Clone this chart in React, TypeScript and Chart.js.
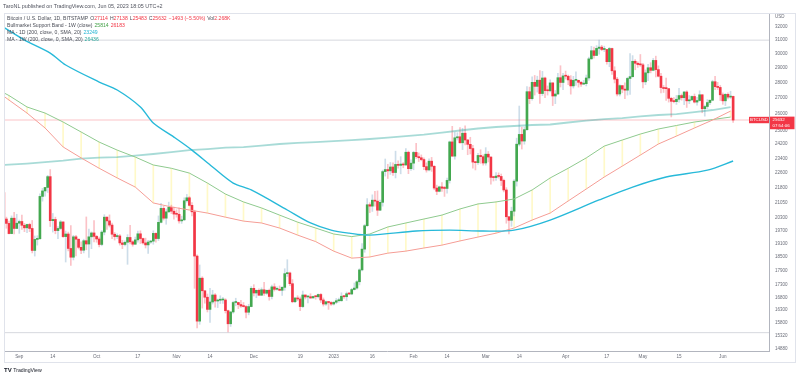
import React, { useEffect, useRef } from "react";
import { Chart, registerables } from "chart.js";
Chart.register(...registerables);

// ---------------- DATA ----------------
const candleStart = "2022-08-26";
const firstOpen = 21560;
// daily closes, Aug 26 2022 .. Jun 5 2023
const closes = [
  20250, 20040, 19560, 20290, 19800, 20050,
  20130, 19950, 19830, 19990, 19800, 18790, 19290, 19320, 21370, 21650, 21830, 22400, 20170, 20230, 19700, 19800, 20110, 19420, 19540, 18880, 18490, 19410, 19300, 18930, 18800, 19230, 19080, 19410, 19590, 19430,
  19310, 19060, 19630, 20340, 20160, 19960, 19530, 19420, 19450, 19130, 19060, 19160, 19380, 19180, 19070, 19270, 19550, 19330, 19130, 19040, 19170, 19210, 19570, 19330, 20090, 20770, 20290, 20600, 20820, 20630, 20490,
  20480, 20160, 20210, 21150, 21300, 20920, 20600, 18540, 15880, 17590, 17070, 16810, 16330, 16620, 16900, 16660, 16690, 16700, 16700, 16280, 15780, 16230, 16600, 16600, 16520, 16460, 16440, 16220, 16440, 17170,
  16980, 17090, 16890, 17110, 16970, 17090, 16840, 17230, 17130, 17130, 17090, 17210, 17780, 17810, 17360, 16630, 16780, 16740, 16440, 16900, 16820, 16830, 16780, 16840, 16830, 16920, 16700, 16540, 16630, 16600, 16540,
  16610, 16670, 16670, 16850, 16830, 16950, 16940, 17120, 17180, 17440, 17940, 18850, 19930, 20950, 20880, 21180, 21130, 20680, 21070, 22670, 22780, 22710, 22920, 22620, 23060, 23010, 23080, 23030, 23740, 22830, 23130,
  23730, 23490, 23430, 23330, 22940, 22760, 23240, 22960, 21800, 21630, 21860, 21790, 21780, 22200, 24330, 23520, 24570, 24630, 24280, 24840, 24440, 24190, 23950, 23190, 23160, 23560, 23490, 23140,
  23630, 23470, 22360, 22350, 22430, 22410, 22200, 21700, 20360, 20190, 20630, 22160, 24200, 24770, 24380, 25050, 27420, 26970, 28040, 27770, 28180, 27300, 28330, 27490, 27480, 28000, 27140, 27270, 28350, 28030, 28470,
  28450, 28200, 27800, 28170, 28170, 28040, 27920, 27950, 28330, 29650, 30230, 29890, 30400, 30490, 30320, 30320, 29450, 30390, 28820, 28250, 27270, 27820, 27590, 27520, 28300, 28420, 29480, 29340, 29250, 29230,
  28070, 28680, 29030, 28850, 29540, 28900, 28450, 27690, 27630, 27620, 26990, 26800, 26780, 26930, 27170, 27030, 27400, 26830, 26890, 27110, 26750, 26850, 27220, 26330, 26470, 26720, 26870, 28080, 27750, 27700, 27220,
  26830, 27250, 27070, 27114, 25632,
];
const highs = [
  21860, 20340, 20150, 20400, 20570, 20480,
  20200, 20440, 20040, 20010, 20050, 20180, 19450, 19460, 21500, 21780, 21830, 22470, 22780, 20520, 20340, 19890, 20180, 20110, 19680, 19630, 19940, 19480, 19480, 19310, 19180, 19300, 20350, 19770, 19640, 20170,
  19480, 19400, 19700, 20460, 20360, 20450, 20060, 19610, 19550, 19520, 19250, 19230, 19510, 19950, 19230, 19400, 19680, 19690, 19350, 19350, 19250, 19250, 19690, 19600, 20400, 21020, 20870, 20740, 21080, 20930, 20830,
  20700, 20800, 20390, 21300, 21470, 21360, 21060, 20680, 18600, 18150, 17650, 17070, 16940, 17170, 17090, 16960, 16740, 16870, 16810, 16750, 16300, 16250, 16650, 16770, 16610, 16690, 16600, 16480, 16530, 17240,
  17320, 17100, 17150, 17190, 17420, 17100, 17140, 17300, 17360, 17230, 17270, 17240, 17990, 18380, 17850, 17530, 16800, 16870, 16820, 17060, 16900, 16870, 16950, 16860, 16860, 16940, 16960, 16780, 16660, 16620, 16640,
  16630, 16760, 16780, 16990, 16880, 17020, 16990, 17170, 17390, 17490, 17990, 19100, 19990, 21260, 21050, 21450, 21630, 21650, 21190, 22750, 23360, 23070, 23170, 23150, 23800, 23260, 23490, 23160, 23950, 23810, 23320,
  23790, 24250, 23700, 23590, 23430, 23150, 23370, 23450, 22990, 21950, 21900, 22080, 21890, 22320, 24380, 25250, 24900, 24870, 25180, 25130, 25280, 24480, 24600, 24140, 23210, 23680, 23880, 23600,
  24000, 23780, 23480, 22420, 22620, 22600, 22540, 22270, 21820, 20370, 20830, 22250, 24550, 26500, 25200, 25200, 27750, 27720, 28400, 28500, 28450, 28830, 28780, 28390, 27800, 28200, 28020, 27500, 28650, 29170, 28650,
  28800, 28530, 28490, 28440, 28750, 28190, 28100, 28170, 28530, 29770, 30550, 30490, 30600, 31000, 30620, 30560, 30320, 30470, 30420, 29100, 28370, 27880, 27820, 28000, 28380, 30020, 29880, 29600, 29450, 29960,
  29340, 28880, 29270, 29380, 29680, 29840, 29160, 28650, 27830, 28330, 27630, 27060, 27040, 27180, 27640, 27270, 27450, 27480, 27170, 27150, 27270, 27050, 27480, 27220, 26560, 26910, 26880, 28180, 28440, 28040, 27830,
  27340, 27300, 27340, 27450, 27138,
];
const lows = [
  20140, 19810, 19550, 19550, 19540, 19800,
  19570, 19760, 19650, 19600, 19650, 18680, 18540, 19030, 19300, 21130, 21380, 21570, 19890, 19630, 19550, 19330, 19750, 19380, 18280, 18770, 18130, 18370, 18550, 18860, 18650, 18680, 18820, 18480, 18870, 19170,
  19160, 18950, 19000, 19500, 19750, 19870, 19330, 19260, 19330, 19030, 18870, 18990, 18180, 19080, 18980, 19070, 19160, 19100, 19070, 18900, 18660, 19110, 19070, 19160, 19240, 20060, 20200, 20000, 20560, 20510, 20240,
  20340, 20050, 20040, 20180, 21080, 20890, 20400, 17170, 15630, 15760, 16380, 16570, 16230, 15830, 16540, 16420, 16400, 16560, 16560, 16190, 15480, 15680, 16180, 16470, 16360, 16410, 16420, 16000, 16120, 16430,
  16860, 16790, 16880, 16880, 16880, 16920, 16690, 16740, 17060, 17090, 17070, 16880, 17090, 17660, 17280, 16590, 16590, 16670, 16280, 16400, 16740, 16580, 16760, 16780, 16730, 16780, 16600, 16460, 16490, 16330, 16490,
  16500, 16550, 16610, 16650, 16760, 16680, 16910, 16910, 17100, 17140, 17310, 17900, 18710, 19900, 20560, 20620, 20880, 20420, 20660, 20880, 22430, 22300, 22520, 22470, 22330, 22850, 22550, 22880, 23000, 22560, 22730,
  22770, 23390, 23220, 23260, 22770, 22640, 22710, 22680, 21710, 21460, 21600, 21630, 21370, 21530, 22060, 23510, 23350, 24440, 24260, 23890, 24160, 23600, 23640, 22850, 22760, 23060, 23120, 23020,
  23020, 23200, 22000, 22170, 22200, 22320, 21930, 21600, 20050, 19550, 19900, 20400, 21900, 24100, 23920, 24200, 25000, 26650, 26880, 27200, 27390, 26660, 27170, 27030, 27200, 27400, 26530, 26650, 27250, 27730, 27560,
  28260, 27880, 27260, 27660, 27830, 27720, 27770, 27880, 27800, 28170, 29620, 29700, 29880, 29980, 30230, 30160, 29280, 29100, 28570, 28000, 27150, 27140, 27350, 26970, 27200, 27250, 28380, 28890, 29050, 29120,
  27670, 27880, 28150, 28680, 28820, 28400, 28400, 27340, 27370, 26860, 26750, 25820, 26700, 26600, 26740, 26870, 26580, 26410, 26650, 26850, 26690, 26560, 26810, 26080, 25870, 26340, 26590, 26830, 27560, 27560, 26850,
  26610, 26530, 26960, 26980, 25483,
];

// weekly indicator vertices (every 7 days from this Sunday)
const weekStart = "2022-08-21";
const bandEma21 = [27790, 27170, 26440, 26060, 25510, 24910, 24320, 23860, 23470, 23030, 22850, 22590, 22060, 21490, 21090, 20790, 20440, 20100, 19820, 19540, 19420, 19540, 19870, 20060, 20250, 20440, 20740, 20990, 21090, 21240, 21700, 22330, 22850, 23420, 24090, 24440, 24790, 25090, 25300, 25510, 25660, 25814];
const bandSma20 = [27730, 26880, 26060, 25150, 24040, 23420, 22850, 22330, 21850, 21040, 20840, 20690, 20540, 20340, 20150, 20060, 19820, 19490, 19190, 18760, 18450, 18500, 18670, 18760, 18900, 19030, 19220, 19400, 19580, 19820, 20200, 20540, 21140, 21750, 22380, 22970, 23580, 24210, 24670, 25150, 25630, 26183];
const maWeekly200 = [22970, 23050, 23110, 23190, 23270, 23380, 23440, 23470, 23550, 23640, 23750, 23860, 23920, 24000, 24030, 24120, 24210, 24270, 24320, 24380, 24440, 24500, 24580, 24670, 24760, 24880, 25000, 25120, 25210, 25270, 25330, 25360, 25480, 25600, 25690, 25750, 25850, 25940, 26000, 26120, 26250, 26436];

// daily 200 SMA, sampled
const maDailyDates = ["2022-08-26", "2022-09-03", "2022-09-13", "2022-09-19", "2022-10-02", "2022-10-09", "2022-10-18", "2022-10-23", "2022-10-31", "2022-11-07", "2022-11-15", "2022-11-23", "2022-11-30", "2022-12-14", "2022-12-23", "2022-12-31", "2023-01-07", "2023-01-15", "2023-02-02", "2023-02-15", "2023-02-28", "2023-03-12", "2023-03-26", "2023-04-14", "2023-04-27", "2023-05-10", "2023-05-26", "2023-06-05"];
const maDaily200 = [31950, 31010, 30060, 29220, 28060, 27530, 26440, 25450, 24610, 23860, 22920, 22060, 21700, 20690, 20060, 19720, 19580, 19490, 19680, 19720, 19680, 19720, 20200, 21190, 21850, 22380, 22750, 23249];

const rangeLines = [31000, 15450];

const xTickDates = ["2022-09-01", "2022-09-14", "2022-10-01", "2022-10-17", "2022-11-01", "2022-11-14", "2022-12-01", "2022-12-19", "2023-01-01", "2023-01-16", "2023-02-01", "2023-02-14", "2023-03-01", "2023-03-14", "2023-04-01", "2023-04-17", "2023-05-01", "2023-05-15", "2023-06-01"];
const xTickLabels = ["Sep", "14", "Oct", "17", "Nov", "14", "Dec", "19", "2023", "16", "Feb", "14", "Mar", "14", "Apr", "17", "May", "15", "Jun"];
const yTicks = [32000, 31000, 30000, 29000, 28000, 27000, 26000, 25000, 24200, 23400, 22600, 21800, 21050, 20300, 19700, 19100, 18500, 17900, 17300, 16800, 16300, 15800, 15320, 14880];

// ---------------- HELPERS ----------------
const BASE = Date.parse("2022-09-01T00:00:00Z");
const dayOf = (s: string) => Math.round((Date.parse(s + "T00:00:00Z") - BASE) / 86400000);
const X_MIN = -5.55;
const X_MAX = 290.92;
const Y_MIN = 14790;
const Y_MAX = 33070;

const UP = "#43a84f";
const DOWN = "#f23645";
const UP_WICK = "rgba(130,170,200,0.4)";
const DOWN_WICK = "rgba(242,54,69,0.3)";
const FONT = '"Liberation Sans", Arial, sans-serif';

const startDay = dayOf(candleStart);
const opens = closes.map((c, i) => (i === 0 ? firstOpen : closes[i - 1]));
const lastClose = closes[closes.length - 1];
const weekDay0 = dayOf(weekStart);

const wickData = closes.map((c, i) => ({
  x: startDay + i,
  y: [Math.min(lows[i], opens[i], c), Math.max(highs[i], opens[i], c)],
}));
const bodyData = closes.map((c, i) => ({ x: startDay + i, y: [opens[i], c] }));
const isUp = (i: number) => closes[i] >= opens[i];
const weekly = (arr: number[]) => arr.map((v, i) => ({ x: weekDay0 + 7 * i, y: v }));
const bandFill = bandEma21.map((v, i) => ({ x: weekDay0 + 7 * i, y: [bandSma20[i], v] }));
const maDailyData = maDailyDates.map((d, i) => ({ x: dayOf(d), y: maDaily200[i] }));
const hLine = (v: number) => [{ x: X_MIN - 5, y: v }, { x: X_MAX + 5, y: v }];
const tickDays = xTickDates.map(dayOf);

const priceTag = {
  id: "priceTag",
  afterDraw(chart: any) {
    const { ctx, chartArea } = chart;
    const py = chart.scales.y.getPixelForValue(lastClose);
    ctx.save();
    ctx.fillStyle = DOWN;
    ctx.fillRect(chartArea.right - 20, py - 3.2, 20, 6.4);
    ctx.fillRect(chartArea.right + 1, py - 3.4, 24.5, 12.6);
    ctx.fillStyle = "#ffffff";
    ctx.font = `4.4px ${FONT}`;
    ctx.textBaseline = "middle";
    ctx.textAlign = "center";
    ctx.fillText("BTCUSD", chartArea.right - 10, py + 0.2);
    ctx.textAlign = "left";
    ctx.fillText(String(lastClose), chartArea.right + 3.5, py + 0.2);
    ctx.fillText("07:54:06", chartArea.right + 3.5, py + 6.2);
    ctx.restore();
  },
};

export default function App() {
  const ref = useRef<HTMLCanvasElement>(null);
  useEffect(() => {
    const chart = new Chart(ref.current as HTMLCanvasElement, {
      type: "bar",
      data: {
        datasets: [
          {
            type: "bar",
            data: bandFill as any,
            backgroundColor: "rgba(255,235,59,0.28)",
            barThickness: 1,
            grouped: false,
            order: 20,
          } as any,
          {
            type: "line",
            data: hLine(rangeLines[0]) as any,
            borderColor: "#d6d8de",
            borderWidth: 1,
            pointRadius: 0,
            order: 19,
          },
          {
            type: "line",
            data: hLine(rangeLines[1]) as any,
            borderColor: "#d6d8de",
            borderWidth: 1,
            pointRadius: 0,
            order: 19,
          },
          {
            type: "line",
            data: hLine(lastClose) as any,
            borderColor: "rgba(242,54,69,0.2)",
            borderWidth: 1.5,
            pointRadius: 0,
            order: 18,
          },
          {
            type: "bar",
            data: wickData as any,
            backgroundColor: (c: any) => (isUp(c.dataIndex) ? UP_WICK : DOWN_WICK),
            barThickness: 1,
            grouped: false,
            order: 11,
          } as any,
          {
            type: "bar",
            data: bodyData as any,
            backgroundColor: (c: any) => (isUp(c.dataIndex) ? UP : DOWN),
            barThickness: 2,
            minBarLength: 1,
            grouped: false,
            order: 10,
          } as any,
          {
            type: "line",
            data: weekly(maWeekly200) as any,
            borderColor: "rgba(38,166,154,0.4)",
            borderWidth: 1.8,
            pointRadius: 0,
            tension: 0,
            order: 4,
          },
          {
            type: "line",
            data: weekly(bandEma21) as any,
            borderColor: "#8fca8f",
            borderWidth: 1,
            pointRadius: 0,
            tension: 0,
            order: 3,
          },
          {
            type: "line",
            data: weekly(bandSma20) as any,
            borderColor: "#f59d96",
            borderWidth: 1,
            pointRadius: 0,
            tension: 0,
            order: 2,
          },
          {
            type: "line",
            data: maDailyData as any,
            borderColor: "#27b9d9",
            borderWidth: 1.4,
            pointRadius: 0,
            tension: 0.3,
            order: 1,
          },
        ],
      },
      options: {
        responsive: false,
        animation: false,
        events: [],
        layout: { padding: { left: 5, right: 5, top: 13, bottom: 16 } },
        plugins: { legend: { display: false }, tooltip: { enabled: false } },
        scales: {
          x: {
            type: "linear",
            min: X_MIN,
            max: X_MAX,
            offset: false,
            grid: { display: false, offset: false, drawTicks: false },
            border: { display: true, color: "#b2b5be", width: 1 },
            afterBuildTicks: (axis: any) => {
              axis.ticks = tickDays.map((v) => ({ value: v }));
            },
            afterFit: (s: any) => {
              s.height = 11;
            },
            ticks: {
              autoSkip: false,
              maxRotation: 0,
              padding: 2.5,
              color: "#6a6d78",
              font: { size: 4.6, family: FONT },
              callback: (v: any) => {
                const i = tickDays.indexOf(Number(v));
                return i >= 0 ? xTickLabels[i] : "";
              },
            },
          },
          y: {
            type: "logarithmic",
            position: "right",
            min: Y_MIN,
            max: Y_MAX,
            grid: { display: false, drawTicks: false },
            border: { display: true, color: "#b2b5be", width: 1 },
            afterBuildTicks: (axis: any) => {
              axis.ticks = yTicks.map((v) => ({ value: v }));
            },
            afterFit: (s: any) => {
              s.width = 26;
            },
            ticks: {
              autoSkip: false,
              padding: 6,
              color: "#6a6d78",
              font: { size: 4.5, family: FONT },
              callback: (v: any) => String(v),
            },
          },
        },
      },
      plugins: [priceTag],
    } as any);
    return () => chart.destroy();
  }, []);

  const abs = (s: React.CSSProperties): React.CSSProperties => ({ position: "absolute", pointerEvents: "none", ...s });
  const gap = { marginLeft: 2 };
  const red = { color: "#f23645" };

  return (
    <div style={{ position: "absolute", left: 0, top: 0, width: 800, height: 378, background: "#ffffff", overflow: "hidden", fontFamily: FONT }}>
      <canvas ref={ref} width={800} height={378} style={{ position: "absolute", left: 0, top: 0, width: 800, height: 378 }} />
      {/* frame */}
      <div style={abs({ left: 4, top: 13, width: 792, height: 1, background: "#e0e3eb" })} />
      <div style={abs({ left: 4, top: 13, width: 1, height: 350, background: "#e0e3eb" })} />
      <div style={abs({ left: 795, top: 13, width: 1, height: 350, background: "#e0e3eb" })} />
      <div style={abs({ left: 4, top: 362, width: 792, height: 1, background: "#e0e3eb" })} />
      {/* header */}
      <div style={abs({ left: 3, top: 3, fontSize: 5.4, lineHeight: "6px", color: "#50535e", whiteSpace: "nowrap" })}>
        TaroNL published on TradingView.com, Jun 05, 2023 18:05 UTC+2
      </div>
      {/* legend */}
      <div style={abs({ left: 7, top: 14.5, fontSize: 5.1, lineHeight: "7.3px", color: "#4a4d57", whiteSpace: "nowrap" })}>
        <div>
          <span>Bitcoin / U.S. Dollar, 1D, BITSTAMP</span>
          <span style={gap}>O</span><span style={red}>27114</span>
          <span style={gap}>H</span><span style={red}>27138</span>
          <span style={gap}>L</span><span style={red}>25483</span>
          <span style={gap}>C</span><span style={red}>25632</span>
          <span style={{ ...gap, ...red }}>−1493 (−5.50%)</span>
          <span style={gap}>Vol</span><span style={red}>2.268K</span>
        </div>
        <div>
          <span>Bullmarket Support Band - 1W (close)</span>
          <span style={{ ...gap, color: "#43a047" }}>25814</span>
          <span style={{ ...gap, color: "#f23645" }}>26183</span>
        </div>
        <div>
          <span>MA - 1D (200, close, 0, SMA, 20)</span>
          <span style={{ ...gap, color: "#1fb3d2" }}>23249</span>
        </div>
        <div>
          <span>MA - 1W (200, close, 0, SMA, 20)</span>
          <span style={{ ...gap, color: "#26a69a" }}>26436</span>
        </div>
      </div>
      {/* axis currency */}
      <div style={abs({ left: 775, top: 13.5, fontSize: 4.5, lineHeight: "5px", color: "#6a6d78" })}>USD</div>
      {/* logo */}
      <div style={abs({ left: 4, top: 366.5, fontSize: 5.2, lineHeight: "7px", color: "#131722", whiteSpace: "nowrap" })}>
        <span style={{ fontWeight: 700, fontSize: 6 }}>TV</span>
        <span style={{ marginLeft: 1.5 }}>TradingView</span>
      </div>
    </div>
  );
}
